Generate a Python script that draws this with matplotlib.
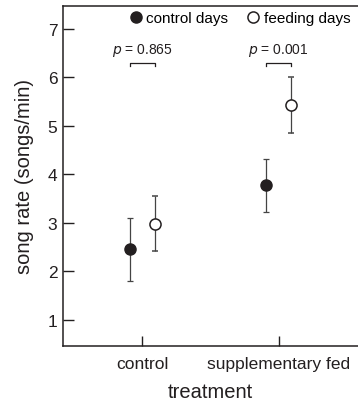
import matplotlib.pyplot as plt
from matplotlib.lines import Line2D

plt.rcParams['font.family'] = ['Liberation Sans', 'DejaVu Sans']

# Data
treatments = ["control", "supplementary fed"]
control_days_mean = [2.45, 3.77]
control_days_err = [0.65, 0.55]
feeding_days_mean = [2.98, 5.42]
feeding_days_err = [0.56, 0.58]
p_values = ["0.865", "0.001"]

ink = '#231f20'
x = [1, 2]
off = 0.09

fig = plt.figure(figsize=(3.58, 4.02), dpi=100)
ax = fig.add_axes([0.176, 0.137, 0.824, 0.846])

xc = [i - off for i in x]
xf = [i + off for i in x]
ax.errorbar(xc, control_days_mean, yerr=control_days_err, fmt='o', ms=8,
            mfc=ink, mec=ink, ecolor='#444444', elinewidth=0.9, capsize=2.5,
            capthick=0.9, zorder=3)
ax.errorbar(xf, feeding_days_mean, yerr=feeding_days_err, fmt='o', ms=8,
            mfc='white', mec=ink, mew=1.1, ecolor='#444444', elinewidth=0.9,
            capsize=2.5, capthick=0.9, zorder=3)

# significance brackets
for i, p in zip(x, p_values):
    y0 = 6.3
    ax.plot([i - off, i - off, i + off, i + off], [y0 - 0.07, y0, y0, y0 - 0.07],
            color=ink, lw=0.9)
    ax.text(i, y0 + 0.09, r'$p$ = ' + p, ha='center', va='bottom', fontsize=10,
            color=ink)

ax.set_xlim(0.42, 2.58)
ax.set_ylim(0.46, 7.47)
ax.set_xticks(x)
ax.set_xticklabels(treatments)
ax.set_yticks([1, 2, 3, 4, 5, 6, 7])
ax.tick_params(direction='in', length=8, width=1, labelsize=12.5, colors=ink)
ax.tick_params(axis='x', length=7, pad=7)
ax.tick_params(axis='y', pad=4)
for s in ['left', 'top', 'bottom']:
    ax.spines[s].set_linewidth(1.1)
    ax.spines[s].set_color(ink)
ax.spines['right'].set_visible(False)

ax.set_xlabel("treatment", fontsize=14.5, color=ink, labelpad=8)
ax.set_ylabel("song rate (songs/min)", fontsize=14.5, color=ink, labelpad=10)

handles = [
    Line2D([], [], marker='o', ls='', ms=8, mfc=ink, mec=ink),
    Line2D([], [], marker='o', ls='', ms=8, mfc='white', mec=ink, mew=1.1),
]
ax.legend(handles, ["control days", "feeding days"], ncol=2, frameon=False,
          loc='upper right', bbox_to_anchor=(1.02, 1.025), fontsize=11,
          handletextpad=0.1, columnspacing=1.0, handlelength=1.2)

fig.savefig("out.png", dpi=100)
